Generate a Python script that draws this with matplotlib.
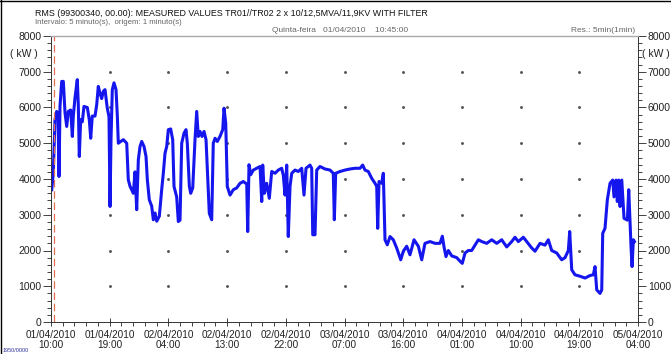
import datetime as dt

import matplotlib
matplotlib.use("Agg")
import matplotlib.pyplot as plt
from matplotlib.lines import Line2D
from matplotlib.ticker import MultipleLocator
import numpy as np

plt.rcParams['font.family'] = ['Liberation Sans', 'DejaVu Sans']

# time axis starts 01/04/2010 10:00, values in hours from there
start = dt.datetime(2010, 4, 1, 10, 0)

hours = [0.11, 0.35, 0.61, 0.87, 1.07, 1.23, 1.38, 1.64, 1.89, 2.15, 2.41, 2.65,
         3.02, 3.27, 3.42, 3.68, 4.03, 4.19, 4.34, 4.55, 4.80, 5.06, 5.57, 5.87,
         6.09, 6.33, 6.75, 7.01, 7.25, 7.51, 7.77, 8.02, 8.28, 8.63, 8.89, 9.05,
         9.20, 9.40, 9.66, 9.97, 10.17, 10.32, 10.69, 11.09, 11.61, 11.85, 12.11,
         12.62, 12.88, 13.14, 13.39, 13.65, 13.91, 14.26, 14.57, 14.77, 15.07,
         15.44, 15.69, 15.95, 16.21, 16.61, 16.97, 17.22, 17.48, 17.74, 17.99,
         18.35, 18.66, 18.86, 19.27, 19.52, 19.78, 20.04, 20.39, 20.70, 20.90,
         21.21, 21.42, 21.73, 22.08, 22.34, 22.58, 22.85, 23.15, 23.46, 23.77,
         23.97, 24.27, 24.64, 24.88, 25.15, 25.50, 25.91, 26.33, 26.53, 26.79,
         27.03, 27.45, 27.95, 28.47, 28.98, 29.48, 30.01, 30.16, 30.36, 30.62,
         31.02, 31.54, 32.05, 32.31, 32.46, 32.71, 33.07, 33.47, 33.84, 34.35,
         34.85, 35.37, 35.62, 35.88, 36.14, 36.38, 36.65, 36.91, 37.41, 37.92,
         38.44, 38.79, 39.10, 39.71, 39.97, 40.13, 40.48, 40.74, 41.24, 42.01,
         42.78, 43.28, 43.44, 43.65, 44.31, 45.08, 45.84, 46.61, 47.38, 47.79,
         48.14, 48.65, 49.17, 49.68, 49.94, 50.09, 50.29, 50.71, 50.95, 51.21,
         51.56, 51.98, 52.48, 53.00, 53.62, 54.02, 54.54, 55.04, 55.66, 56.32,
         56.84, 57.34, 58.11, 58.88, 59.64, 60.00, 60.26, 60.56, 60.92, 61.44,
         62.21, 62.71, 63.06, 63.48, 63.98, 64.50, 65.01, 65.52, 66.04, 66.80,
         67.57, 68.34, 69.10, 69.87, 70.64, 71.14, 71.65, 72.42, 72.94, 73.71,
         74.21, 74.98, 75.74, 76.25, 76.77, 77.54, 78.30, 78.81, 79.32, 79.53,
         79.84, 80.34, 81.11, 81.88, 82.64, 83.15, 83.41, 83.67, 84.18, 84.44,
         84.59, 84.94, 85.30, 85.71, 86.12, 86.32, 86.63, 86.83, 87.05, 87.25,
         87.51, 87.86, 88.37, 88.58, 88.78, 88.94, 89.09, 89.29, 89.45]

kw = [3700, 4160, 5660, 5890, 5800, 4070, 6030, 6730, 6730, 5850, 5470, 5890,
      5930, 5190, 5760, 6270, 6780, 6050, 4630, 5660, 5600, 6030, 6000, 5660,
      5140, 5760, 5760, 6080, 6590, 6400, 6250, 6450, 6500, 5980, 5750, 3230,
      5100, 6500, 6690, 6500, 5760, 5000, 5050, 5100, 5000, 3980, 3800,
      3600, 4200, 3140, 4540, 4910, 5050, 4910, 4630, 3980, 3420,
      3240, 2860, 3050, 2820, 2960, 3700, 4160, 4720, 4910, 5380,
      5400, 5100, 3790, 3500, 2810, 2850, 5000, 5280, 5380, 5000,
      3800, 3600, 3750, 5100, 5890, 5190, 5330, 5190, 5330, 5100,
      4300, 3040, 2860, 5000, 5140, 5050, 5190, 5380, 5980, 5560,
      3790, 3550, 3700, 3750, 3880, 3930, 3860, 2530, 4400, 4120,
      4250, 4300, 4350, 3370, 4390, 3600, 3880, 3460, 4210, 4160,
      4250, 4300, 4100, 3550, 4390, 2390, 3800, 4160, 4250, 4210,
      4300, 3550, 4300, 4390, 4300, 2440, 2440, 4250, 4350, 4280,
      4250, 4160, 2860, 4160, 4210, 4250, 4280, 4300, 4300, 4390,
      4250, 4210, 4020, 3880, 3790, 2620, 3930, 3880, 4160, 2300,
      2160, 2390, 2300, 2070, 1740, 1980, 2120, 1880, 2300, 2120,
      1740, 2200, 2250, 2200, 2200, 2400, 2100, 1830, 2000, 1850,
      1800, 1700, 1640, 1930, 2000, 2000, 2150, 2300, 2250, 2200,
      2300, 2200, 2300, 2100, 2250, 2370, 2250, 2370, 2250, 2070,
      1980, 2200, 2150, 2300, 2000, 1930, 1740, 1800, 2000, 2530,
      1460, 1320, 1280, 1230, 1300, 1320, 1550, 900, 800, 900,
      2480, 2620, 3420, 3880, 3970, 3500, 3970, 3370, 3970, 3230,
      3970, 2900, 2850, 3700, 2800, 2070, 1550, 2300, 2250]

tick_hours = list(range(0, 91, 9))
tick_labels = [(start + dt.timedelta(hours=h)).strftime('%d/%m/%Y\n%H:%M') for h in tick_hours]
marker_hour = 0.45

fig = plt.figure(figsize=(6.71, 3.54), dpi=100)
ax = fig.add_axes([51 / 671, 32 / 354, 587 / 671, 286 / 354])

ax.plot(hours, kw, color='#1515ee', lw=2.2, solid_joinstyle='round')
ax.axvline(marker_hour, color='#e07050', lw=0.9, dashes=(6, 3))

# dots at the grid intersections
gx, gy = np.meshgrid(tick_hours[1:-1], np.arange(1000, 8000, 1000))
ax.scatter(gx.ravel(), gy.ravel(), s=1.2, color='#555555', zorder=1)

ax.set_xlim(0, 90)
ax.set_ylim(0, 8000)
ax.set_xticks(tick_hours)
ax.set_xticklabels(tick_labels, linespacing=1.0)
ax.xaxis.set_minor_locator(MultipleLocator(1.8))
ax.yaxis.set_major_locator(MultipleLocator(1000))
ax.yaxis.set_minor_locator(MultipleLocator(200))

ax.tick_params(axis='x', which='major', direction='inout', length=6, width=0.6,
               labelsize=7.2, pad=3, colors='#222222')
ax.tick_params(axis='x', which='minor', direction='out', length=3, width=0.6, color='#222222')
ax.tick_params(axis='y', which='both', left=True, right=True, labelleft=True,
               labelright=True, direction='out', width=0.6, colors='#222222')
ax.tick_params(axis='y', which='major', length=6, labelsize=7.5, pad=1)
ax.tick_params(axis='y', which='minor', length=3)

for s in ['left', 'right', 'bottom']:
    ax.spines[s].set_color('#333333')
    ax.spines[s].set_linewidth(0.7)
ax.spines['top'].set_color('#aaaaaa')
ax.spines['top'].set_linewidth(1.0)

fig.text(24 / 671, 1 - 54 / 354, '( kW )', fontsize=7.5, ha='center', va='center', color='#222222')
fig.text(656 / 671, 1 - 54 / 354, '( kW )', fontsize=7.5, ha='center', va='center', color='#222222')

fig.text(35 / 671, 1 - 13 / 354,
         'RMS (99300340, 00.00): MEASURED VALUES TR01//TR02 2 x 10/12,5MVA/11,9KV WITH FILTER',
         fontsize=6.4, ha='left', va='center', color='#111111')
fig.text(35 / 671, 1 - 23 / 354, 'Intervalo: 5 minuto(s),  origem: 1 minuto(s)',
         fontsize=5.6, ha='left', va='center', color='#666666')
fig.text(272 / 671, 1 - 30 / 354, 'Quinta-feira   01/04/2010    10:45:00',
         fontsize=6, ha='left', va='center', color='#666666')
fig.text(635 / 671, 1 - 30 / 354, 'Res.: 5min(1min)',
         fontsize=6, ha='right', va='center', color='#666666')

# legend entry at the bottom edge
fig.text(3 / 671, 1 - 350.5 / 354, '1950/0000', fontsize=4, ha='left', va='center', color='#3030a0')

# frame on the left and top of the picture
fig.add_artist(Line2D([0.001, 0.001], [0, 1], transform=fig.transFigure, color='black', lw=1))
fig.add_artist(Line2D([0, 1], [0.998, 0.998], transform=fig.transFigure, color='black', lw=1))

fig.savefig('out.png', dpi=100)
